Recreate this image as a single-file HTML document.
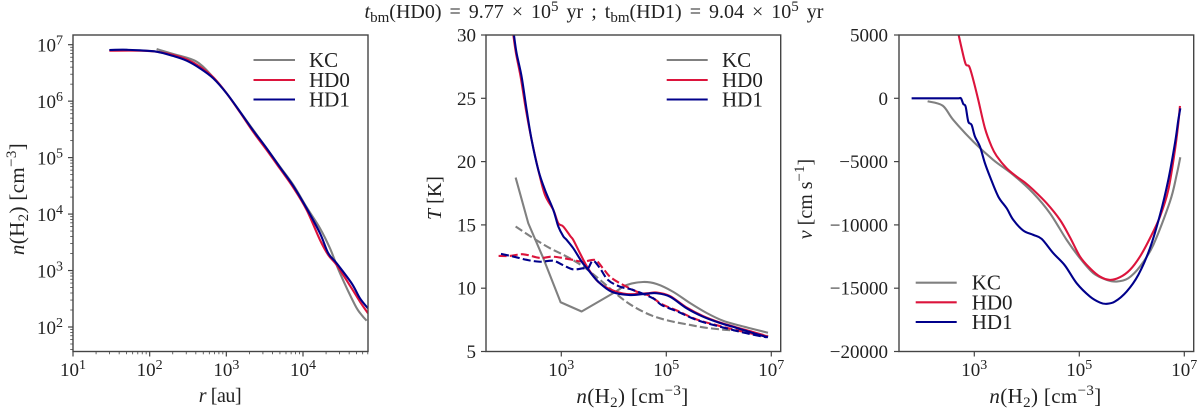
<!DOCTYPE html>
<html lang="en">
<head>
<meta charset="utf-8">
<title>Density, temperature and velocity profiles</title>
<style>
html,body{margin:0;padding:0;background:#fff;width:1200px;height:413px;overflow:hidden}
svg{display:block;font-family:"Liberation Serif",serif;fill:#222;filter:blur(0.35px)}
text{font-size:19px}
.it{font-style:italic}
.title{font-size:20px;word-spacing:3px}
.nlabel{font-size:21px;letter-spacing:.35px}
.alabel{font-size:20px}
.legend{font-size:21px}
</style>
</head>
<body>
<svg id="fig" width="1200" height="413" viewBox="0 0 1200 413" xmlns="http://www.w3.org/2000/svg">
  <text class="title" x="594" y="18" text-anchor="middle"><tspan class="it">t</tspan><tspan dy="4" font-size="15">bm</tspan><tspan dy="-4">(HD0) = 9.77 × 10</tspan><tspan dy="-7" font-size="15">5</tspan><tspan dy="7"> yr ; t</tspan><tspan dy="4" font-size="15">bm</tspan><tspan dy="-4">(HD1) = 9.04 × 10</tspan><tspan dy="-7" font-size="15">5</tspan><tspan dy="7"> yr</tspan></text>

  <text class="alabel" style="letter-spacing:-.4px" x="220" y="402" text-anchor="middle"><tspan class="it">r</tspan> [au]</text>
  <text class="nlabel" transform="translate(24,199) rotate(-90)" text-anchor="middle"><tspan class="it">n</tspan>(H<tspan dy="4" font-size="15">2</tspan><tspan dy="-4">) [cm</tspan><tspan dy="-8" font-size="15">−3</tspan><tspan dy="8">]</tspan></text>

  <text class="nlabel" x="632.5" y="403" text-anchor="middle"><tspan class="it">n</tspan>(H<tspan dy="4" font-size="15">2</tspan><tspan dy="-4">) [cm</tspan><tspan dy="-8" font-size="15">−3</tspan><tspan dy="8">]</tspan></text>
  <text class="alabel" transform="translate(441,198) rotate(-90)" text-anchor="middle"><tspan class="it">T</tspan> [K]</text>

  <text class="nlabel" x="1045.5" y="403" text-anchor="middle"><tspan class="it">n</tspan>(H<tspan dy="4" font-size="15">2</tspan><tspan dy="-4">) [cm</tspan><tspan dy="-8" font-size="15">−3</tspan><tspan dy="8">]</tspan></text>
  <text class="alabel" transform="translate(812,199) rotate(-90)" text-anchor="middle"><tspan class="it">v</tspan> [cm s<tspan dy="-8" font-size="15">−1</tspan><tspan dy="8">]</tspan></text>
</svg>
<script>
// ---- Panel 1: log10(r / au) and log10(n / cm^-3) ----
const densityKcLogR = [2.091,2.309,2.613,2.83,3.004,3.352,3.70,3.874,4.048,4.222,4.352,4.483,4.678,4.765,4.83];
const densityKcLogN = [6.923,6.835,6.699,6.421,6.138,5.489,4.839,4.515,4.119,3.747,3.393,2.95,2.39,2.213,2.112];
const densityHd0LogR = [1.474,1.874,2.091,2.309,2.483,2.657,2.83,3.004,3.178,3.352,3.526,3.70,3.874,4.048,4.222,4.33,4.439,4.635,4.743,4.848];
const densityHd0LogN = [6.894,6.894,6.876,6.817,6.74,6.61,6.421,6.138,5.802,5.453,5.135,4.804,4.468,4.072,3.541,3.275,3.098,2.685,2.449,2.242];
const densityHd1LogR = [1.474,1.657,1.874,2.091,2.309,2.483,2.657,2.83,3.004,3.178,3.352,3.526,3.70,3.874,4.048,4.222,4.33,4.439,4.635,4.743,4.848];
const densityHd1LogN = [6.906,6.911,6.90,6.876,6.799,6.717,6.581,6.404,6.138,5.813,5.477,5.164,4.828,4.497,4.10,3.659,3.305,3.128,2.773,2.508,2.33];

// ---- Panel 2: log10(n) and T in K ----
const tempKcLogN = [2.13,2.371,2.657,2.987,3.387,3.99,4.246,4.556,4.817,5.128,5.451,5.77,6.08,6.404,6.651,6.937];
const tempKcT = [18.74,15.13,12.37,8.89,8.16,9.61,10.25,10.49,10.33,9.72,8.83,8.04,7.43,7.04,6.78,6.48];
const tempHd0LogN = [2.086,2.137,2.225,2.327,2.435,2.562,2.689,2.848,2.943,3.038,3.178,3.229,3.356,3.509,3.70,3.96,4.246,4.627,4.817,5.07,5.389,5.70,6.023,6.341,6.651,6.937];
const tempHd0T = [30,28.55,26.71,24.08,21.71,19.34,17.37,16.18,15.13,14.87,14.08,13.81,12.76,11.57,10.51,9.86,9.54,9.6,9.66,9.38,8.47,7.8,7.29,6.9,6.54,6.18];
const tempHd1LogN = [2.098,2.149,2.244,2.340,2.435,2.562,2.689,2.848,2.943,3.038,3.103,3.229,3.389,3.514,3.705,3.96,4.309,4.627,4.817,5.07,5.389,5.70,6.023,6.341,6.651,6.937];
const tempHd1T = [30,28.55,26.71,24.08,21.71,19.34,17.76,16.18,14.87,14.1,13.81,13.15,12.09,11.44,10.51,9.72,9.46,9.57,9.6,9.33,8.41,7.75,7.25,6.86,6.46,6.12];
const dustKcLogN = [2.13,2.467,2.784,3.102,3.419,3.737,4.15,4.436,4.747,5.07,5.389,5.70,6.023,6.341,6.651,6.937];
const dustKcT = [14.87,13.95,13.16,12.5,11.71,10.66,9.2,8.41,7.8,7.41,7.15,6.91,6.75,6.64,6.5,6.22];
const dustHd0LogN = [1.806,2.022,2.276,2.594,2.842,3.166,3.413,3.642,3.794,3.928,4.118,4.442,4.69,4.912,5.223,5.579,6.023,6.531,6.937];
const dustHd0T = [12.55,12.55,12.68,12.39,12.49,12.28,12.09,12.23,11.57,10.91,10.39,9.72,9.38,8.75,8.2,7.53,7.01,6.5,6.15];
const dustHd1LogN = [1.851,2.086,2.34,2.594,2.842,3.032,3.223,3.413,3.509,3.604,3.737,3.89,4.118,4.366,4.747,4.912,5.223,5.579,6.023,6.531,6.912];
const dustHd1T = [12.71,12.5,12.24,12.09,12.17,11.83,11.49,11.57,11.57,12.17,11.57,10.65,10.12,9.86,9.2,8.67,8.14,7.49,6.96,6.44,6.12];

// ---- Panel 3: log10(n) and v in cm/s ----
const velKcLogN = [2.111,2.397,2.6,2.981,3.362,3.743,4.124,4.441,4.759,5.013,5.267,5.521,5.711,5.933,6.156,6.41,6.727,6.854,6.924];
const velKcV = [-237,-579,-1711,-3421,-4868,-6053,-7500,-9079,-11184,-12632,-13816,-14342,-14474,-14211,-13289,-11579,-8158,-6053,-4658];
const velHd0LogN = [2.702,2.759,2.835,2.905,2.981,3.076,3.203,3.33,3.425,3.616,3.806,3.965,4.124,4.378,4.632,4.822,5.013,5.203,5.394,5.584,5.775,5.965,6.156,6.346,6.537,6.695,6.822,6.886,6.917];
const velHd0V = [5000,3947,2711,2500,1447,-132,-2368,-3816,-4553,-5526,-6184,-6658,-7237,-8289,-9605,-10974,-12500,-13421,-14079,-14342,-14132,-13553,-12500,-11053,-9342,-7237,-4079,-1974,-605];
const velHd1LogN = [1.806,2.2,2.5,2.7,2.746,2.79,2.835,2.886,2.949,3.013,3.108,3.203,3.298,3.457,3.616,3.743,3.933,4.124,4.283,4.505,4.727,4.949,5.203,5.394,5.521,5.679,5.902,6.124,6.346,6.537,6.695,6.822,6.886,6.924];
const velHd1V = [0,0,0,0,0,-447,-658,-1842,-2105,-3026,-3816,-5132,-6184,-7763,-8684,-9605,-10447,-10789,-11105,-12237,-13211,-14605,-15658,-16132,-16237,-16053,-15263,-13947,-11842,-9211,-6447,-3553,-1711,-789];

// ---- Tick labels ----
const densityXExponents = [1,2,3,4];
const densityYExponents = [2,3,4,5,6,7];
const nExponents = [3,5,7];
const tempTicks = [5,10,15,20,25,30];
const velTicks = [-20000,-15000,-10000,-5000,0,5000];
const legendLabels = ['KC','HD0','HD1'];

const NS = 'http://www.w3.org/2000/svg';
const fig = document.getElementById('fig');
const SPINE = '#444';
const COLORS = {KC:'#808080',HD0:'#dc143c',HD1:'#00008b'};

function el(tag, attrs, parent){
  const e = document.createElementNS(NS, tag);
  for (const k in attrs) e.setAttribute(k, attrs[k]);
  (parent || fig).appendChild(e);
  return e;
}
// Axis functions: a value maps to a pixel through the panel's scale.
function scale(d0, d1, r0, r1){ return v => r0 + (v - d0) * (r1 - r0) / (d1 - d0); }

// The first `straight` segments are drawn straight, the rest as a Catmull-Rom curve.
function linePath(P, straight){
  let d = 'M' + P[0][0].toFixed(2) + ' ' + P[0][1].toFixed(2);
  for (let i = 0; i < P.length - 1; i++){
    if (i < straight){
      d += 'L' + P[i+1][0].toFixed(2) + ' ' + P[i+1][1].toFixed(2);
      continue;
    }
    const p0 = P[Math.max(i-1,0)], p1 = P[i], p2 = P[i+1], p3 = P[Math.min(i+2,P.length-1)];
    const c1x = p1[0] + (p2[0]-p0[0])/6, c1y = p1[1] + (p2[1]-p0[1])/6;
    const c2x = p2[0] - (p3[0]-p1[0])/6, c2y = p2[1] - (p3[1]-p1[1])/6;
    d += 'C' + [c1x,c1y,c2x,c2y,p2[0],p2[1]].map(n => n.toFixed(2)).join(' ');
  }
  return d;
}
function drawLine(g, fx, fy, xs, ys, color, dashed, name, straight){
  const P = xs.map((x, i) => [fx(x), fy(ys[i])]);
  const a = {d:linePath(P, straight), fill:'none', stroke:color, 'stroke-width':2.1, 'stroke-linejoin':'round'};
  if (dashed) a['stroke-dasharray'] = '8 3.2';
  const p = el('path', a, g);
  
  
}
function tick(x1, y1, x2, y2, w, name){
  const t = el('line', {x1, y1, x2, y2, stroke:SPINE, 'stroke-width':w});
  
  
}
function powerLabel(x, y, anchor, exp, name){
  const t = el('text', {x, y, 'text-anchor':anchor});
  
  
  t.appendChild(document.createTextNode('10'));
  const s = el('tspan', {dy:-7, 'font-size':14}, t);
  s.textContent = exp;
}
function plainLabel(x, y, str, name){
  const t = el('text', {x, y, 'text-anchor':'end'});
  
  
  t.textContent = str;
}
function frame(id, L, R, T, B){
  const r = el('rect', {x:L, y:T, width:R-L, height:B-T, fill:'none', stroke:SPINE, 'stroke-width':1.4});
  
  
}
function clipGroup(id, L, R, T, B){
  const c = el('clipPath', {id:'clip-' + id});
  el('rect', {x:L, y:T, width:R-L, height:B-T}, c);
  const g = el('g', {'clip-path':'url(#clip-' + id + ')'});
  
  
  return g;
}
function legend(id, x0, x1, tx, ys){
  legendLabels.forEach((lab, i) => {
    const l = el('line', {x1:x0, x2:x1, y1:ys[i], y2:ys[i], stroke:COLORS[lab], 'stroke-width':2.1});
    
    
    const t = el('text', {x:tx, y:ys[i] + 7, class:'legend'});
    
    
    t.textContent = lab;
  });
}

/* Panel 1 */
(function(){
  const L = 73, R = 368, T = 35, B = 351.5;
  const fx = scale(1, 4, 73, 303);
  const fy = scale(2, 7, 327, 44.7);
  const g = clipGroup('density', L, R, T, B);
  drawLine(g, fx, fy, densityKcLogR, densityKcLogN, COLORS.KC, false, 'density-kc-line', 0);
  drawLine(g, fx, fy, densityHd0LogR, densityHd0LogN, COLORS.HD0, false, 'density-hd0-line', 0);
  drawLine(g, fx, fy, densityHd1LogR, densityHd1LogN, COLORS.HD1, false, 'density-hd1-line', 0);
  frame('density', L, R, T, B);
  densityXExponents.forEach(e => {
    tick(fx(e), B, fx(e), B + 5, 1.2, 'density-x-tick');
    powerLabel(fx(e), 376, 'middle', e, 'density-x-tick-label');
  });
  for (let d = 1; d <= 4; d++) for (let m = 2; m < 10; m++){
    const v = d + Math.log10(m);
    if (fx(v) <= R) tick(fx(v), B, fx(v), B + 2.8, 0.8, 'density-x-minor-tick');
  }
  densityYExponents.forEach(e => {
    tick(L, fy(e), L - 5, fy(e), 1.2, 'density-y-tick');
    powerLabel(63, fy(e) + 7, 'end', e, 'density-y-tick-label');
  });
  for (let d = 1; d <= 7; d++) for (let m = 2; m < 10; m++){
    const v = d + Math.log10(m);
    if (fy(v) <= B && fy(v) >= T) tick(L, fy(v), L - 2.8, fy(v), 0.8, 'density-y-minor-tick');
  }
  legend('density', 253.5, 295, 309, [60, 80, 99.5]);
})();

/* Panel 2 */
(function(){
  const L = 486, R = 780.7, T = 35, B = 351.5;
  const fx = scale(3, 7, 561.3, 771.3);
  const fy = scale(5, 30, 351.5, 35);
  const g = clipGroup('temperature', L, R, T, B);
  drawLine(g, fx, fy, tempKcLogN, tempKcT, COLORS.KC, false, 'temperature-kc-gas-line', 5);
  drawLine(g, fx, fy, dustKcLogN, dustKcT, COLORS.KC, true, 'temperature-kc-dust-line', 0);
  drawLine(g, fx, fy, tempHd0LogN, tempHd0T, COLORS.HD0, false, 'temperature-hd0-gas-line', 0);
  drawLine(g, fx, fy, dustHd0LogN, dustHd0T, COLORS.HD0, true, 'temperature-hd0-dust-line', 0);
  drawLine(g, fx, fy, tempHd1LogN, tempHd1T, COLORS.HD1, false, 'temperature-hd1-gas-line', 0);
  drawLine(g, fx, fy, dustHd1LogN, dustHd1T, COLORS.HD1, true, 'temperature-hd1-dust-line', 0);
  frame('temperature', L, R, T, B);
  nExponents.forEach(e => {
    tick(fx(e), B, fx(e), B + 5, 1.2, 'temperature-x-tick');
    powerLabel(fx(e), 376, 'middle', e, 'temperature-x-tick-label');
  });
  tempTicks.forEach(v => {
    tick(L, fy(v), L - 5, fy(v), 1.2, 'temperature-y-tick');
    plainLabel(476, fy(v) + 6.5, String(v), 'temperature-y-tick-label');
  });
  legend('temperature', 666.7, 707.7, 722, [60, 80, 99.5]);
})();

/* Panel 3 */
(function(){
  const L = 899, R = 1193.7, T = 35, B = 351.5;
  const fx = scale(3, 7, 974.3, 1184.3);
  const fy = scale(-20000, 5000, 351.5, 35);
  const g = clipGroup('velocity', L, R, T, B);
  drawLine(g, fx, fy, velKcLogN, velKcV, COLORS.KC, false, 'velocity-kc-line', 0);
  drawLine(g, fx, fy, velHd0LogN, velHd0V, COLORS.HD0, false, 'velocity-hd0-line', 0);
  drawLine(g, fx, fy, velHd1LogN, velHd1V, COLORS.HD1, false, 'velocity-hd1-line', 0);
  frame('velocity', L, R, T, B);
  nExponents.forEach(e => {
    tick(fx(e), B, fx(e), B + 5, 1.2, 'velocity-x-tick');
    powerLabel(fx(e), 376, 'middle', e, 'velocity-x-tick-label');
  });
  velTicks.forEach(v => {
    tick(L, fy(v), L - 5, fy(v), 1.2, 'velocity-y-tick');
    plainLabel(888, fy(v) + 6.5, String(v).replace('-', '−'), 'velocity-y-tick-label');
  });
  legend('velocity', 915.7, 956.7, 971.7, [282.7, 302.3, 322]);
})();
</script>
</body>
</html>
